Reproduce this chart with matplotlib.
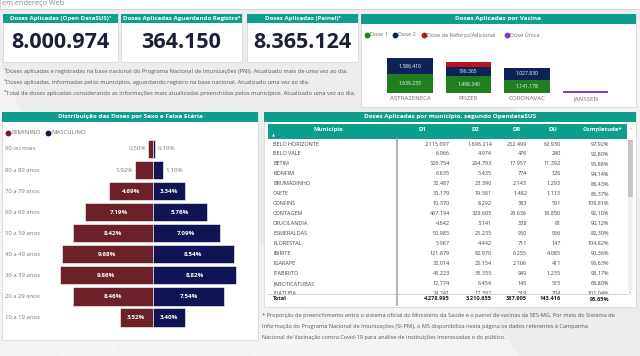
import matplotlib
matplotlib.use("Agg")
import matplotlib.pyplot as plt
from matplotlib.patches import Rectangle, Polygon

W, H = 640, 356
plt.rcParams['font.family'] = ['Open Sans', 'DejaVu Sans']

# --- dados ---
kpi_titulos = ["Doses Aplicadas (Open DataSUS)¹", "Doses Aplicadas Aguardando Registro²", "Doses Aplicadas (Painel)³"]
kpi_valores = [8000974, 364150, 8365124]

notas = [
    "¹Doses aplicadas e registradas na base nacional do Programa Nacional de Imunizações (PNI). Atualizado mais de uma vez ao dia.",
    "²Doses aplicadas, informadas pelos municípios, aguardando registro na base nacional. Atualizado uma vez ao dia.",
    "³Total de doses aplicadas considerando as informações mais atualizadas preenchidas pelos municípios. Atualizado uma vez ao dia.",
]

vacinas = ["ASTRAZENECA", "PFIZER", "CORONAVAC", "JANSSEN"]
dose1 = [1639233, 1498340, 1141178, 0]
dose2 = [1386410, 796365, 1027830, 0]
reforco = [0, 375000, 0, 0]
unica = [0, 0, 0, 150000]

faixas = ["90 ou mais", "80 a 89 anos", "70 a 79 anos", "60 a 69 anos", "50 a 59 anos",
          "40 a 49 anos", "30 a 39 anos", "20 a 29 anos", "10 a 19 anos"]
feminino = [0.50, 1.92, 4.69, 7.19, 8.42, 9.68, 9.86, 8.46, 3.52]
masculino = [0.19, 1.10, 3.34, 5.76, 7.09, 8.54, 8.82, 7.54, 3.40]

colunas = ["Município", "D1", "D2", "DR", "DU", "Completude*"]
municipios = ["BELO HORIZONTE", "BELO VALE", "BETIM", "BONFIM", "BRUMADINHO", "CAETE", "CONFINS",
              "CONTAGEM", "CRUCILANDIA", "ESMERALDAS", "FLORESTAL", "IBIRITE", "IGARAPE",
              "ITABIRITO", "JABOTICATUBAS", "JUATUBA"]
d1 = [2115097, 6966, 326754, 6635, 32487, 30179, 10370, 467194, 4642, 50985, 5967, 121879, 32014, 43223, 12774, 24241]
d2 = [1696214, 4974, 264793, 5435, 23390, 19581, 8292, 329605, 3141, 25235, 4442, 82970, 25154, 35355, 6454, 17302]
dr = [252499, 476, 17957, 774, 2143, 1482, 383, 28636, 338, 950, 711, 6255, 2106, 949, 145, 519]
du = [62930, 240, 11392, 126, 1293, 1113, 591, 18850, 81, 956, 147, 4085, 411, 1235, 515, 704]
completude = ["97,92%", "92,80%", "95,88%", "94,14%", "88,43%", "85,37%", "109,81%", "92,10%", "90,12%",
              "82,30%", "104,82%", "90,36%", "95,63%", "93,17%", "68,80%", "101,04%"]
totais = ["4.278.995", "3.210.655", "367.905", "143.416", "95,65%"]

nota_tabela = [
    "* Proporção de preenchimento entre o sistema oficial do Ministério da Saúde e o painel de vacinas da SES-MG. Por meio do Sistema de",
    "Informação do Programa Nacional de Imunizações (SI-PNI), o MS disponibiliza nesta página os dados referentes à Campanha",
    "Nacional de Vacinação contra Covid-19 para análise de instituições interessadas e do público.",
]

TEAL = "#0e9e8d"
NAVY_TXT = "#1b2036"
GRIS = "#6b6b6b"
VERDE, AZUL, VERM, ROXO = "#1f7f1f", "#0d2256", "#b7141b", "#7b3fc0"
BORDO, MARINHO = "#6c2027", "#101454"


def br(v):
    return f"{v:,}".replace(",", ".")


fig = plt.figure(figsize=(6.4, 3.56), dpi=100)
fig.patch.set_facecolor("#ececec")
bg = fig.add_axes([0, 0, 1, 1])
bg.set_xlim(0, W)
bg.set_ylim(H, 0)
bg.axis("off")


def px_axes(x0, y0, x1, y1):
    a = fig.add_axes([x0 / W, 1 - y1 / H, (x1 - x0) / W, (y1 - y0) / H])
    a.patch.set_alpha(0)
    return a


def caixa(x0, y0, x1, y1, fc="white", ec="#d9d9d9", lw=0.6, z=1):
    bg.add_patch(Rectangle((x0, y0), x1 - x0, y1 - y0, fc=fc, ec=ec, lw=lw, zorder=z))


# fundo com triangulos claros
for pts in [[(0, 60), (120, 356), (0, 356)], [(180, 110), (330, 356), (60, 356)],
            [(420, 40), (640, 20), (640, 200)], [(250, 356), (400, 180), (520, 356)]]:
    bg.add_patch(Polygon(pts, fc="#f6f6f6", ec="none", alpha=0.7, zorder=0))

# barra do navegador
caixa(0, -2, W, 9, fc="white", ec="#d0d0d0", lw=0.6)
bg.text(2, 3.6, "em endereço Web", fontsize=5.2, color="#8a8a8a", va="center", ha="left")

# --- KPIs ---
kpi_x = [(3, 118), (121, 242), (247, 358)]
for (x0, x1), t, v in zip(kpi_x, kpi_titulos, kpi_valores):
    caixa(x0, 14, x1, 62)
    caixa(x0, 14, x1, 23, fc=TEAL, ec="none", z=2)
    bg.text((x0 + x1) / 2, 18.7, t, fontsize=4.4, color="white", weight="bold",
            ha="center", va="center", zorder=3)
    bg.text((x0 + x1) / 2, 43, br(v), fontsize=15.5, color=NAVY_TXT, weight="bold",
            ha="center", va="center", zorder=3)

for i, n in enumerate(notas):
    bg.text(4, 71 + i * 11, n, fontsize=4.15, color="#555555", ha="left", va="center")

# --- Doses por vacina ---
caixa(361, 14, 636, 107)
caixa(361, 14, 636, 23.5, fc=TEAL, ec="none", z=2)
bg.text(498, 18.8, "Doses Aplicadas por Vacina", fontsize=4.6, color="white", weight="bold",
        ha="center", va="center", zorder=3)
leg = [("Dose 1", VERDE), ("Dose 2", AZUL), ("Dose de Reforço/Adicional", VERM), ("Dose Única", ROXO)]
leg_x = [366.5, 395, 424, 506.5]
for (nome, c), lx in zip(leg, leg_x):
    bg.scatter([lx], [35], s=10, color=c, zorder=3)
    bg.text(lx + 3, 35, nome, fontsize=4.1, color=GRIS, ha="left", va="center", zorder=3)

axv = px_axes(380.75, 56.3, 614.75, 92.7)
xs = range(len(vacinas))
axv.bar(xs, dose1, width=0.77, color=VERDE)
axv.bar(xs, dose2, width=0.77, bottom=dose1, color=AZUL)
base2 = [a + b for a, b in zip(dose1, dose2)]
axv.bar(xs, reforco, width=0.77, bottom=base2, color=VERM)
axv.bar(xs, unica, width=0.77, color=ROXO)
for i in xs:
    if dose1[i]:
        axv.text(i, dose1[i] / 2, br(dose1[i]), fontsize=3.6, color="white", ha="center", va="center")
    if dose2[i]:
        axv.text(i, dose1[i] + dose2[i] / 2, br(dose2[i]), fontsize=3.6, color="white",
                 ha="center", va="center")
axv.set_xlim(-0.5, 3.5)
axv.set_ylim(0, 3.2e6)
axv.set_yticks([])
axv.set_xticks(list(xs))
axv.set_xticklabels(vacinas, fontsize=4.4, color=GRIS)
axv.tick_params(axis="x", length=0, pad=2.5)
for s in axv.spines.values():
    s.set_visible(False)

# --- Piramide ---
caixa(2, 112, 258, 340)
caixa(2, 112, 258, 121.5, fc=TEAL, ec="none", z=2)
bg.text(130, 116.8, "Distribuição das Doses por Sexo e Faixa Etária", fontsize=4.6, color="white",
        weight="bold", ha="center", va="center", zorder=3)
bg.scatter([8], [133], s=10, color=BORDO, zorder=3)
bg.text(11, 133, "FEMININO", fontsize=4.3, color=GRIS, ha="left", va="center", zorder=3)
bg.scatter([48], [133], s=10, color=MARINHO, zorder=3)
bg.text(51, 133, "MASCULINO", fontsize=4.3, color=GRIS, ha="left", va="center", zorder=3)

esc = 9.45
cx = 153
axp = px_axes(cx - 14 * esc, 149 - 10.55, cx + 10.5 * esc, 317.5 + 10.55)
ys = range(len(faixas))
axp.barh(ys, [-f for f in feminino], height=0.86, color=BORDO, edgecolor="white", linewidth=0.4)
axp.barh(ys, masculino, height=0.86, color=MARINHO, edgecolor="white", linewidth=0.4)
axp.set_xlim(-14, 10.5)
axp.set_ylim(len(faixas) - 0.5, -0.5)
axp.axis("off")
for i in ys:
    f, m = feminino[i], masculino[i]
    if f >= 3:
        axp.text(-f / 2, i, f"{f:.2f}%", fontsize=4.5, color="white", weight="bold", ha="center", va="center")
    else:
        axp.text(-f - 0.2, i, f"{f:.2f}%", fontsize=4.5, color="#777777", ha="right", va="center")
    if m >= 3:
        axp.text(m / 2, i, f"{m:.2f}%", fontsize=4.5, color="white", weight="bold", ha="center", va="center")
    else:
        axp.text(m + 0.25, i, f"{m:.2f}%", fontsize=4.5, color="#777777", ha="left", va="center")
    axp.text(-14 + (5 - (cx - 14 * esc)) / esc, i, faixas[i], fontsize=4.3, color="#777777",
             ha="left", va="center", clip_on=False)

# --- Tabela ---
caixa(264, 112, 636, 307)
caixa(264, 112, 636, 121.5, fc=TEAL, ec="none", z=2)
bg.text(450, 116.8, "Doses Aplicadas por município, segundo OpendataSUS", fontsize=4.6, color="white",
        weight="bold", ha="center", va="center", zorder=3)
caixa(268, 124, 627, 139, fc=TEAL, ec="none", z=2)
col_hx = [328, 422, 475, 517, 553, 602]
for x, c in zip(col_hx, colunas):
    bg.text(x, 129.5, c, fontsize=4.3, color="white", weight="bold", ha="center", va="center", zorder=3)
bg.text(273, 135.5, "▲", fontsize=2.8, color="white", ha="center", va="center", zorder=3)

col_rx = [450, 492, 527, 561, 609]
y0, dy = 144, 9.95
for i, nome in enumerate(municipios):
    y = y0 + i * dy
    vals = [br(d1[i]), br(d2[i]), br(dr[i]), br(du[i]), completude[i]]
    bg.text(273, y, nome, fontsize=4.0, color="#444444", ha="left", va="center", zorder=3)
    for x, v in zip(col_rx, vals):
        bg.text(x, y, v, fontsize=4.0, color="#444444", ha="right", va="center", zorder=3)

# linha total cobre parte da ultima linha
caixa(268, 293.5, 627, 305, fc="white", ec="none", z=4)
bg.plot([268, 627], [293.5, 293.5], color="#c8c8c8", lw=0.6, zorder=5)
bg.text(273, 299, "Total", fontsize=4.1, color="#222222", weight="bold", ha="left", va="center", zorder=5)
for x, v in zip(col_rx, totais):
    bg.text(x, 299, v, fontsize=4.1, color="#222222", weight="bold", ha="right", va="center", zorder=5)
bg.plot([397, 397], [139, 305], color="#a8a8a8", lw=1.2, zorder=6)

# barra de rolagem
caixa(628, 140, 633, 290, fc="#f0f0f0", ec="none", z=3)
caixa(628, 140, 633, 197, fc="#c6c6c6", ec="none", z=3)
bg.text(630.5, 130, "^", fontsize=4, color="#999999", ha="center", va="center", zorder=3)
bg.text(630.5, 293, "v", fontsize=3.5, color="#999999", ha="center", va="center", zorder=3)

for i, n in enumerate(nota_tabela):
    bg.text(262, 315 + i * 11.5, n, fontsize=4.05, color="#555555", ha="left", va="center")

fig.savefig("out.png", dpi=100, facecolor=fig.get_facecolor())
